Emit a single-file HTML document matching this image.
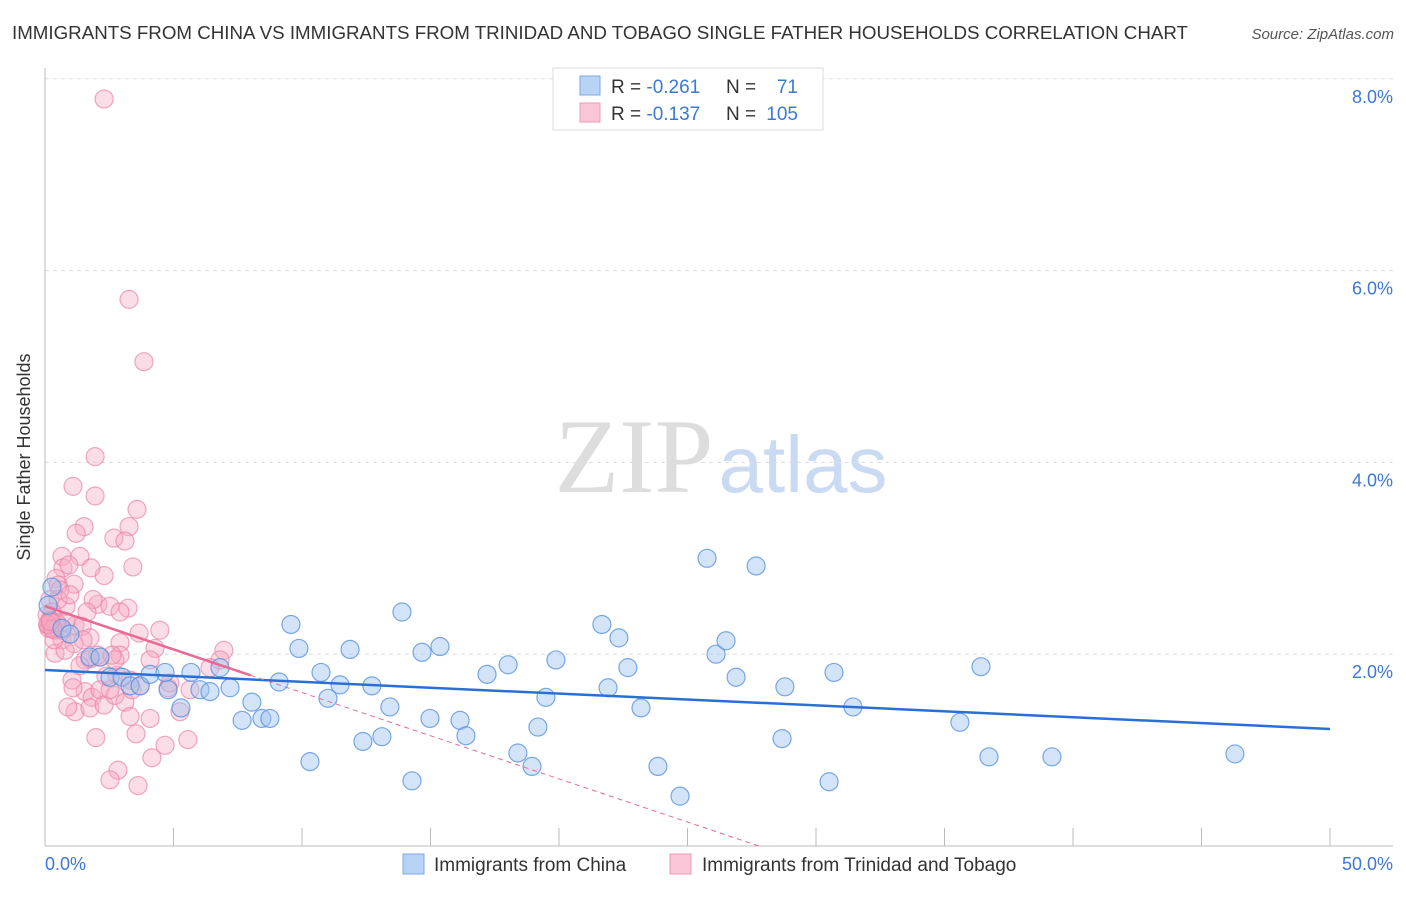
<!DOCTYPE html>
<html><head><meta charset="utf-8"><style>
body{margin:0;background:#fff;font-family:"Liberation Sans",sans-serif}
</style></head><body>
<svg width="1406" height="892" xmlns="http://www.w3.org/2000/svg">
<text x="12" y="39" font-size="18.5" fill="#333" textLength="1176" lengthAdjust="spacingAndGlyphs">IMMIGRANTS FROM CHINA VS IMMIGRANTS FROM TRINIDAD AND TOBAGO SINGLE FATHER HOUSEHOLDS CORRELATION CHART</text>
<text x="1394" y="39" font-size="15" fill="#555" font-style="italic" text-anchor="end">Source: ZipAtlas.com</text>
<g>
<text x="634" y="492" font-size="106" fill="#ddd" font-family="Liberation Serif,serif" text-anchor="middle">ZIP</text>
<text x="803" y="492" font-size="80" fill="#c9daf2" text-anchor="middle">atlas</text>
</g>
<g id="grid"></g>
<line x1="45" y1="68" x2="45" y2="846" stroke="#bbb"/>
<line x1="45" y1="846" x2="1393" y2="846" stroke="#bbb"/>
<text x="30" y="457" font-size="18" fill="#333" text-anchor="middle" transform="rotate(-90 30 457)">Single Father Households</text>
<text x="45" y="870" font-size="18" fill="#3b78d8">0.0%</text>
<text x="1393" y="870" font-size="18" fill="#3b78d8" text-anchor="end">50.0%</text>
<g id="ticks"></g>
<g id="pink"></g><g id="blue"></g><g id="lines"></g>
<g>
<rect x="553" y="68" width="270" height="62" fill="#fff" stroke="#ddd"/>
<rect x="580" y="76" width="20" height="19" fill="#b9d3f5" stroke="#7aa8e6"/>
<rect x="580" y="103" width="20" height="19" fill="#f8c6d6" stroke="#ef9ab6"/>
<text x="611" y="93" font-size="19" fill="#333">R = <tspan fill="#3b78d8">-0.261</tspan><tspan x="726">N = </tspan><tspan x="798" text-anchor="end" fill="#3b78d8">71</tspan></text>
<text x="611" y="120" font-size="19" fill="#333">R = <tspan fill="#3b78d8">-0.137</tspan><tspan x="726">N = </tspan><tspan x="798" text-anchor="end" fill="#3b78d8">105</tspan></text>
</g>
<g>
<rect x="403" y="854" width="21" height="20" fill="#b9d3f5" stroke="#7aa8e6"/>
<text x="434" y="871" font-size="19" fill="#333">Immigrants from China</text>
<rect x="670" y="854" width="21" height="20" fill="#f8c6d6" stroke="#ef9ab6"/>
<text x="702" y="871" font-size="19" fill="#333">Immigrants from Trinidad and Tobago</text>
</g>
</svg>
<script>
const yTicks=[2,4,6,8];
const yTickLabels=["2.0%","4.0%","6.0%","8.0%"];
const xTicks=[5,10,15,20,25,30,35,40,45,50];
const chinaX=[0.27,0.66,0.97,1.75,2.14,2.53,3.00,3.31,3.70,4.09,4.67,4.79,5.29,5.68,6.03,6.42,6.81,7.20,7.67,8.05,8.44,8.75,9.11,9.57,9.88,10.31,10.74,11.01,11.48,11.87,12.37,12.72,13.11,13.42,13.89,14.28,14.67,14.98,15.37,16.15,16.38,17.20,18.02,18.40,18.95,19.18,19.49,19.88,21.67,21.91,22.33,22.68,23.19,23.85,24.71,25.76,26.11,26.50,26.89,27.67,28.68,28.79,30.51,30.70,31.44,35.60,36.42,36.73,39.18,46.30,0.12];
const chinaY=[2.70,2.27,2.21,1.97,1.97,1.76,1.76,1.67,1.67,1.79,1.81,1.63,1.44,1.81,1.63,1.61,1.86,1.65,1.31,1.50,1.33,1.33,1.71,2.31,2.06,0.88,1.81,1.54,1.68,2.05,1.09,1.67,1.14,1.45,2.44,0.68,2.02,1.33,2.08,1.31,1.15,1.79,1.89,0.97,0.83,1.24,1.55,1.94,2.31,1.65,2.17,1.86,1.44,0.83,0.52,3.00,2.00,2.14,1.76,2.92,1.12,1.66,0.67,1.81,1.45,1.29,1.87,0.93,0.93,0.96,2.51];
const trinX=[2.30,3.27,3.85,1.95,1.09,1.95,3.58,1.52,3.27,1.21,2.68,3.11,0.66,1.36,3.42,0.70,2.30,1.79,0.93,0.43,1.13,0.51,0.58,2.06,3.23,0.82,1.87,1.63,2.53,2.92,1.17,1.44,0.19,0.12,0.39,0.66,1.13,1.75,2.92,3.66,0.39,0.78,1.56,2.14,4.28,2.92,4.47,6.96,6.81,1.05,1.56,1.83,2.14,2.80,3.31,4.09,1.09,1.17,1.75,2.30,2.72,3.11,3.39,4.79,5.25,5.64,1.98,3.54,4.67,5.56,4.16,2.84,2.53,3.62,2.53,0.89,0.66,0.19,0.51,0.97,1.48,2.06,3.70,2.37,1.75,2.72,0.27,0.82,0.08,0.35,1.36,4.86,6.42,2.61,3.31,4.09,0.2,0.3,0.4,0.25,0.15,0.45,0.1,0.3,0.2];
const trinY=[7.79,5.70,5.05,4.06,3.75,3.65,3.51,3.33,3.33,3.26,3.21,3.18,3.02,3.02,2.91,2.90,2.82,2.90,2.93,2.79,2.73,2.72,2.67,2.52,2.48,2.50,2.57,2.44,2.50,2.44,2.30,2.29,2.36,2.30,2.25,2.15,2.11,2.17,2.12,2.22,2.01,2.04,1.94,1.97,2.06,1.99,2.25,2.04,1.94,1.73,1.61,1.55,1.63,1.78,1.73,1.94,1.65,1.40,1.44,1.47,1.57,1.50,1.63,1.65,1.40,1.63,1.13,1.17,1.05,1.11,0.92,0.79,0.69,0.63,1.63,1.45,2.25,2.57,2.57,2.62,2.15,1.99,1.67,1.77,1.95,1.94,2.44,2.34,2.41,2.15,1.88,1.70,1.86,1.99,1.35,1.33,2.30,2.28,2.32,2.35,2.27,2.33,2.31,2.26,2.34];
const chinaTrend=[1.835,1.22];
const trinTrend=[2.50,-0.09];
const NS="http://www.w3.org/2000/svg";
const sx=v=>45+v*25.7, sy=v=>846-v*95.9;
function mk(t,p,a){const e=document.createElementNS(NS,t);for(const k in a)e.setAttribute(k,a[k]);p.appendChild(e);return e;}
const grid=document.getElementById('grid');
yTicks.forEach((t,i)=>{
 const l=mk('line',grid,{x1:45,x2:1393,y1:sy(t),y2:sy(t),stroke:'#ddd','stroke-dasharray':'4 4'});
 
 
 const tx=mk('text',grid,{x:1393,y:sy(t)+24,'font-size':18,fill:'#3b78d8','text-anchor':'end'});
 tx.textContent=yTickLabels[i];
 
 
});
const tk=document.getElementById('ticks');
xTicks.forEach(t=>{
 const l=mk('line',tk,{x1:sx(t),x2:sx(t),y1:828,y2:846,stroke:'#bbb'});
 
 
});
const pg=document.getElementById('pink');
trinX.forEach((x,i)=>{
 const c=mk('circle',pg,{cx:sx(x),cy:sy(trinY[i]),r:9,fill:'rgba(246,170,195,0.4)',stroke:'rgba(236,130,165,0.7)','stroke-width':1.2});
 
 
});
const bg=document.getElementById('blue');
chinaX.forEach((x,i)=>{
 const c=mk('circle',bg,{cx:sx(x),cy:sy(chinaY[i]),r:9,fill:'rgba(160,196,240,0.45)',stroke:'rgba(80,140,220,0.75)','stroke-width':1.2});
 
 
});
const lg=document.getElementById('lines');
const bl=mk('line',lg,{x1:sx(0),y1:sy(chinaTrend[0]),x2:sx(50),y2:sy(chinaTrend[1]),stroke:'#2a6fd6','stroke-width':2.5});


const te=-trinTrend[0]/trinTrend[1];
const pd=mk('line',lg,{x1:sx(8),y1:sy(trinTrend[0]+8*trinTrend[1]),x2:sx(te),y2:sy(0),stroke:'#e86a95','stroke-width':1,'stroke-dasharray':'5 4'});


const pl=mk('line',lg,{x1:sx(0),y1:sy(trinTrend[0]),x2:sx(8),y2:sy(trinTrend[0]+8*trinTrend[1]),stroke:'#e86a95','stroke-width':2.5});


</script>
</body></html>
